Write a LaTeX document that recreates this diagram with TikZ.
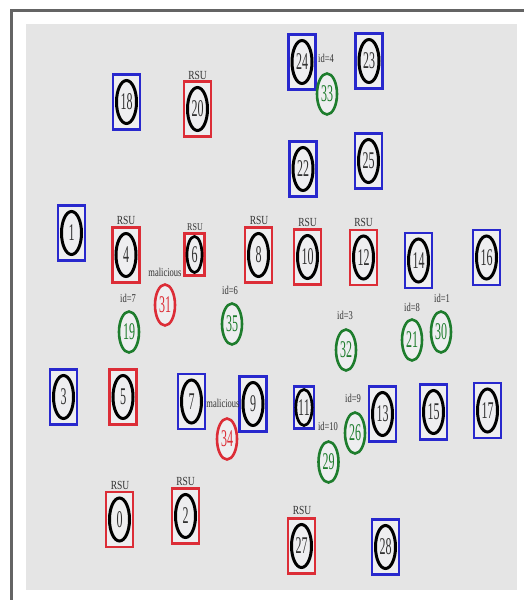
\documentclass[tikz,border=0pt]{standalone}
\usepackage{fontspec}
\setmainfont{Liberation Serif}
\usetikzlibrary{shapes.geometric}
\definecolor{bblue}{RGB}{40,40,205}
\definecolor{rred}{RGB}{220,45,55}
\definecolor{ggreen}{RGB}{30,125,45}
\definecolor{bgray}{RGB}{229,229,229}
\definecolor{fgray}{RGB}{100,100,100}
\definecolor{ntext}{RGB}{50,50,50}
\definecolor{lfill}{RGB}{238,238,240}
\newcommand{\numtxt}[1]{\scalebox{1}[2.0]{\fontsize{12}{12}\selectfont #1}}
\newcommand{\lbltxt}[1]{\scalebox{1}[1.4]{\fontsize{8.5}{8.5}\selectfont #1}}
\tikzset{
  boxst/.style={draw=#1, line width=2.3pt, fill=lfill, minimum width=27pt, minimum height=55pt, inner sep=0pt},
  sboxst/.style={draw=#1, line width=2.3pt, fill=lfill, minimum width=20pt, minimum height=42pt, inner sep=0pt},
  vell/.style={ellipse, draw=black, line width=3pt, fill=lfill, minimum width=20pt, minimum height=43pt, inner sep=0pt, text=ntext},
  svell/.style={ellipse, draw=black, line width=2.7pt, fill=lfill, minimum width=15pt, minimum height=36pt, inner sep=0pt, text=ntext},
  cell/.style={ellipse, draw=#1, line width=2.6pt, fill=lfill, minimum width=20pt, minimum height=41pt, inner sep=0pt, text=#1},
  lbl/.style={inner sep=0pt, text=ntext},
}
\begin{document}
\begin{tikzpicture}[x=1pt,y=-1pt]
\useasboundingbox (0,0) rectangle (524,600);
\fill[white] (0,0) rectangle (524,600);
\fill[bgray] (26,24) rectangle (517,590);
\draw[fgray, line width=2.2pt] (11.5,600) -- (11.5,10.5) -- (524,10.5);
% boxed vehicles / RSUs
\foreach \n/\x/\y/\c in {18/126.5/102/bblue, 20/197.5/109/rred, 24/302/62/bblue, 23/369/61/bblue,
  22/303/169/bblue, 25/368.5/161/bblue, 1/71.5/233/bblue, 4/126/255/rred, 8/258.5/255/rred,
  10/307.5/257/rred, 12/363.5/257.5/rred, 14/418.5/260.5/bblue, 16/486.5/257.5/bblue,
  3/63.5/397/bblue, 5/123/397/rred, 7/191.5/401.5/bblue, 9/253/404/bblue, 13/382.5/414/bblue,
  15/433.5/412/bblue, 17/487.5/410.5/bblue, 0/119.5/519.5/rred, 2/185.5/516/rred,
  27/301.5/546/rred, 28/385.5/547/bblue} {
  \node[boxst=\c] (b\n) at (\x,\y) {};
  \node[vell] (v\n) at (\x,\y) {\numtxt{\n}};
}
% smaller boxes
\node[sboxst=rred] (b6) at (194.5,254.5) {};
\node[svell] (v6) at (194.5,254.5) {\numtxt{6}};
\node[sboxst=bblue] (b11) at (304,407.5) {};
\node[svell] (v11) at (304,407.5) {\numtxt{11}};
% circles
\foreach \n/\x/\y/\c in {33/327/94/ggreen, 31/165/305/rred, 19/129/332/ggreen, 35/232/324/ggreen,
  32/346/350/ggreen, 21/412/340/ggreen, 30/441/332/ggreen, 34/227/439/rred,
  26/355/433/ggreen, 29/328.5/462/ggreen} {
  \node[cell=\c] (c\n) at (\x,\y) {\numtxt{\n}};
}
% RSU labels
\foreach \n/\x/\y in {20/197.5/75, 4/126/220, 8/259/220, 10/307.5/222, 12/363.5/222,
  0/120/485, 2/185.5/481, 27/302/510} {
  \node[lbl] (r\n) at (\x,\y) {\scalebox{1}[1.3]{\fontsize{9.5}{9.5}\selectfont RSU}};
}
\node[lbl] (r6) at (195,227) {\scalebox{1}[1.3]{\fontsize{8}{8}\selectfont RSU}};
% id / malicious labels
\node[lbl] (l33) at (326,58) {\lbltxt{id=4}};
\node[lbl] (l31) at (165,272) {\lbltxt{malicious}};
\node[lbl] (l19) at (128,298) {\lbltxt{id=7}};
\node[lbl] (l35) at (230,290) {\lbltxt{id=6}};
\node[lbl] (l32) at (345,315) {\lbltxt{id=3}};
\node[lbl] (l21) at (412,307) {\lbltxt{id=8}};
\node[lbl] (l30) at (442,298) {\lbltxt{id=1}};
\node[lbl] (l34) at (223,403) {\lbltxt{malicious}};
\node[lbl] (l26) at (353,398) {\lbltxt{id=9}};
\node[lbl] (l29) at (328,426) {\lbltxt{id=10}};
\end{tikzpicture}
\end{document}
